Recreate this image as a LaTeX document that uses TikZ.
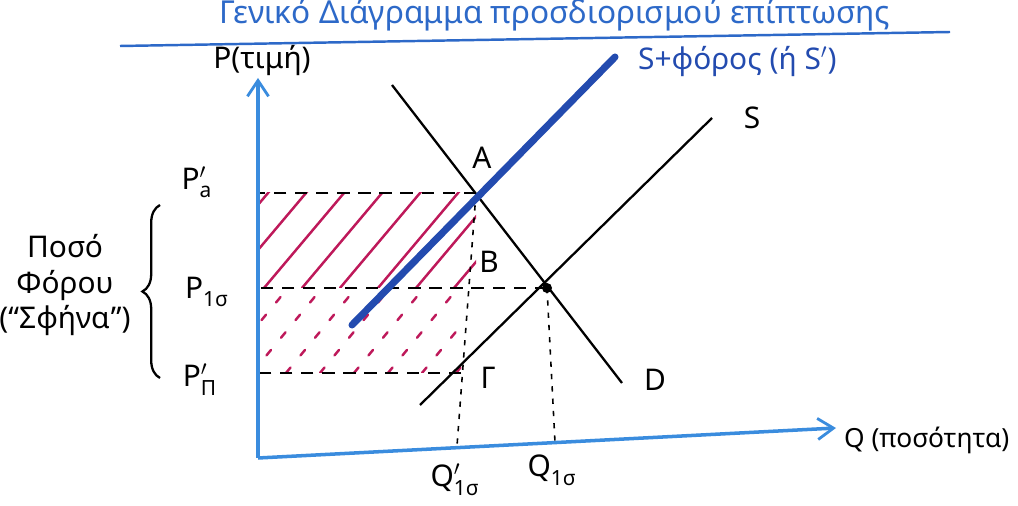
\documentclass[tikz,border=0pt]{standalone}
\usepackage{fontspec}
\usepackage{amsmath}
\setmainfont{Noto Sans}
\usetikzlibrary{arrows.meta, positioning, calc, decorations.pathreplacing}
\definecolor{axisblue}{RGB}{58, 140, 222}
\definecolor{taxblue}{RGB}{35, 75, 175}
\definecolor{hatchred}{RGB}{190, 25, 90}
\definecolor{titleblue}{RGB}{45, 105, 200}
\newcommand{\pq}[3]{#1$^{#2}_{\text{#3}}$}

\begin{document}
\begin{tikzpicture}[
  x=0.02cm, y=-0.02cm,
  lbl/.style={font=\fontsize{17}{20}\selectfont, inner sep=1pt},
  axisline/.style={draw=axisblue, line width=2pt, -{Straight Barb[length=9pt, width=12pt, line width=1.6pt]}},
  curve/.style={draw=black, line width=1.3pt},
  taxline/.style={draw=taxblue, line width=4pt, line cap=round},
  guide/.style={dashed, line width=1.3pt, dash pattern=on 7pt off 5pt},
  drop/.style={line width=0.9pt, dash pattern=on 3pt off 4pt},
  hatch/.style={draw=hatchred, line width=1.4pt, line cap=round},
  hatchdash/.style={hatch, dash pattern=on 4pt off 9pt},
  brace/.style={draw, line width=1.3pt, decorate, decoration={brace, amplitude=10pt}}
]
  \useasboundingbox (0,0) rectangle (1018,506);

  % title (cut at the top)
  \node[font=\fontsize{18}{20}\selectfont, text=titleblue] (title) at (555,15) {Γενικό Διάγραμμα προσδιορισμού επίπτωσης};
  \draw[titleblue, line width=1.4pt] (120,46) -- (950,32);

  % key points
  \coordinate (O) at (258,458);
  \coordinate (ytop) at (258,78);
  \coordinate (xend) at (836,428);
  \coordinate (A) at (476,193);
  \coordinate (E) at (547,288);
  \coordinate (G) at (461,373);
  \coordinate (Dtop) at (392,85);
  \coordinate (Dbot) at (622,383);
  \coordinate (Sbot) at (420,405);
  \coordinate (Stop) at (712,118);
  \coordinate (Tbot) at (352,325);
  \coordinate (Ttop) at (615,57);

  % shaded areas
  \begin{scope}
    \clip (258,193) rectangle (476,288);
    \foreach \k in {0,...,9}
      \draw[hatch] ($(150,288)+(\k*38,0)$) -- ++(160,-190);
  \end{scope}
  \begin{scope}
    \clip (258,288) rectangle (464,373);
    \foreach \k in {0,...,10}
      \draw[hatchdash] ($(150,373)+(\k*34,0)$) -- ++(140,-170);
  \end{scope}

  % guide lines
  \draw[guide] (A) -- (A -| O);
  \draw[guide] (E) -- (E -| O);
  \draw[guide] (G) -- (G -| O);
  \coordinate (Qp) at ($(O)!(457,450)!(xend)$);
  \coordinate (Q) at ($(O)!(E)!(xend)$);
  \draw[drop] (A) -- (Qp);
  \draw[drop] (E) -- (Q);

  % axes
  \draw[axisline] (O) -- (ytop);
  \draw[axisline] (O) -- (xend);

  % curves
  \draw[curve] (Dtop) -- (Dbot);
  \draw[curve] (Sbot) -- (Stop);
  \draw[taxline] (Tbot) -- (Ttop);
  \fill (E) circle (5);

  % labels
  \node[lbl] (py) at (262,60) {P(τιμή)};
  \node[lbl, anchor=west, font=\fontsize{15}{18}\selectfont] (qx) at (842,440) {Q (ποσότητα)};
  \node[lbl, anchor=west, text=taxblue] (tlbl) at (636,62) {S+φόρος (ή S$'$)};
  \node[lbl] (slbl) at (752,118) {S};
  \node[lbl] (dlbl) at (655,380) {D};
  \node[lbl] (albl) at (482,158) {A};
  \node[lbl] (blbl) at (489,262) {B};
  \node[lbl] (glbl) at (488,378) {Γ};
  \node[lbl] (pa) at (197,182) {\pq{P}{\prime}{a}};
  \node[lbl] (pe) at (207,292) {\pq{P}{}{1σ}};
  \node[lbl] (pp) at (200,380) {\pq{P}{\prime}{Π}};
  \node[lbl] (qp) at (455,480) {\pq{Q}{\prime}{1σ}};
  \node[lbl] (qe) at (552,470) {\pq{Q}{}{1σ}};
  \draw[brace] (160,378) -- (160,205);
  \node[lbl, align=center] (tax) at (65,285) {Ποσό\\Φόρου\\(“Σφήνα”)};
\end{tikzpicture}
\end{document}
